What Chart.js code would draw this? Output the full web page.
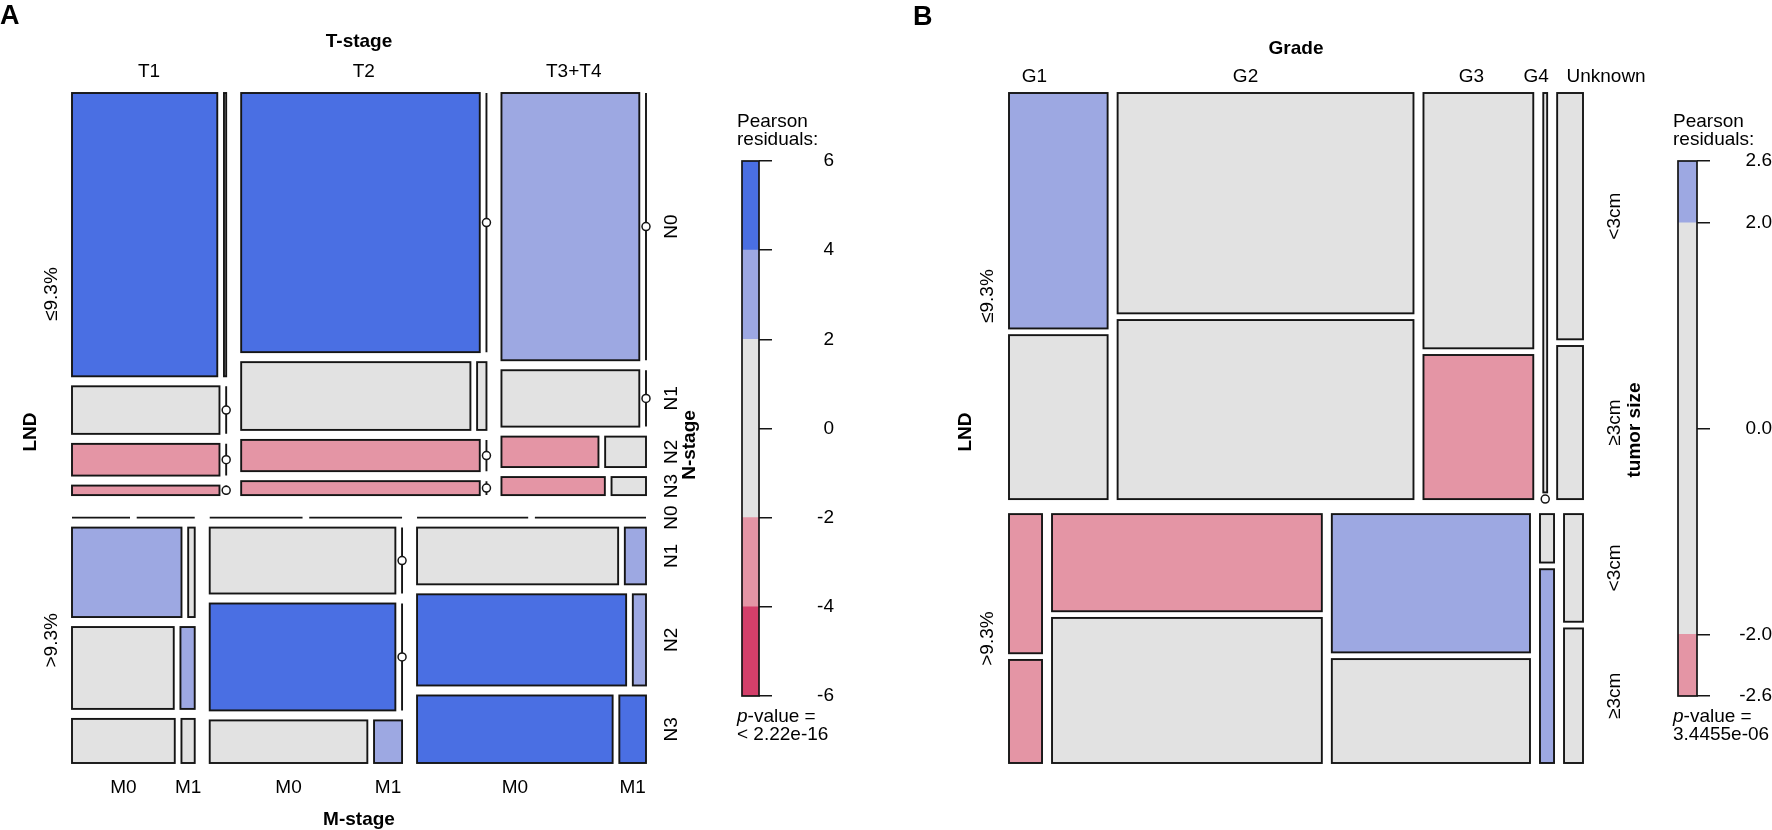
<!DOCTYPE html>
<html>
<head>
<meta charset="utf-8">
<script src="https://cdn.jsdelivr.net/npm/chart.js@4.4.1/dist/chart.umd.min.js"></script>
<style>
  html, body { margin: 0; padding: 0; background: #fff; }
  #wrap { position: relative; width: 1772px; height: 830px; }
  #wrap canvas { position: absolute; left: 0; top: 0; }
</style>
</head>
<body>
<div id="wrap">
  <canvas id="mosaicA" width="1772" height="830"></canvas>
  <canvas id="legendA" width="1772" height="830"></canvas>
  <canvas id="mosaicB" width="1772" height="830"></canvas>
  <canvas id="legendB" width="1772" height="830"></canvas>
</div>
<script>
// ---- panel A: LND x T-stage x N-stage x M-stage ----
const lndLevels = ['≤9.3%', '>9.3%'];
const tStages = ['T1', 'T2', 'T3+T4'];
const nStages = ['N0', 'N1', 'N2', 'N3'];
const mStages = ['M0', 'M1'];

// counts per T-stage, N-stage: [M0, M1]
const countsLowLND = [
  [[264, 4], [45, 0], [30, 0], [9, 0]],
  [[390, 0], [98, 4], [47, 0], [21, 0]],
  [[237, 0], [50, 0], [19, 8], [12, 4]]
];
const countsHighLND = [
  [[0, 0], [67, 4], [57, 8], [31, 4]],
  [[0, 0], [82, 0], [133, 0], [45, 8]],
  [[0, 0], [76, 8], [127, 8], [88, 12]]
];
// Pearson residuals (estimated from the shading)
const residLowLND = [
  [[5.1, 0.6], [1.2, -0.7], [-2.6, -0.5], [-2.9, -0.3]],
  [[4.6, -1.5], [0.4, 0.9], [-3.1, -0.7], [-3.4, -0.5]],
  [[3.2, -1.4], [1.1, -0.7], [-2.5, 1.6], [-2.3, 1.3]]
];
const residHighLND = [
  [[-1.8, -0.4], [3.0, 0.8], [0.9, 2.7], [-0.6, 1.5]],
  [[-2.2, -0.5], [1.4, -0.9], [5.2, -1.2], [-0.4, 2.8]],
  [[-2.1, -0.6], [0.3, 3.3], [5.6, 2.4], [6.0, 4.9]]
];
const legendBreaksA = [-6, -4, -2, 2, 4, 6];
const legendTicksA = [-6, -4, -2, 0, 2, 4, 6];
const legendTickLabelsA = ['-6', '-4', '-2', '0', '2', '4', '6'];
const pValueA = '< 2.22e-16';

// ---- panel B: LND x Grade x tumor size ----
const grades = ['G1', 'G2', 'G3', 'G4', 'Unknown'];
const tumorSizes = ['<3cm', '≥3cm'];
const sizeCountsLowLND = [[135, 94], [379, 308], [163, 92], [9, 0], [37, 23]];
const sizeCountsHighLND = [[27, 20], [154, 230], [161, 121], [4, 16], [12, 15]];
const sizeResidLowLND = [[2.3, -0.6], [-0.4, 0.8], [0.6, -2.2], [1.0, -1.1], [0.2, -0.4]];
const sizeResidHighLND = [[-2.1, -2.2], [-2.4, 1.3], [2.6, -1.0], [-0.8, 2.1], [-0.3, 0.5]];
const legendBreaksB = [-2.6, -2, 2, 2.6];
const legendTicksB = [-2.6, -2, 0, 2, 2.6];
const legendTickLabelsB = ['-2.6', '-2.0', '0.0', '2.0', '2.6'];
const pValueB = '3.4455e-06';

// ---- styling ----
const FONT = '"Liberation Sans", Arial, Helvetica, sans-serif';
const CW = 1772, CH = 830;
const UNIT_W = 574, UNIT_H = 670;
const COL = {
  darkBlue: '#4A6FE3', lightBlue: '#9DA8E2', grey: '#E2E2E2',
  pink: '#E495A5', darkPink: '#D33F6A'
};
const EDGE = '#151515';

function shade(r) {
  if (r > 4) return COL.darkBlue;
  if (r > 2) return COL.lightBlue;
  if (r < -4) return COL.darkPink;
  if (r < -2) return COL.pink;
  return COL.grey;
}
function bandColor(lo, hi) {
  return shade((lo + hi) / 2);
}

const total = (a) => Array.isArray(a) ? a.reduce((s, v) => s + total(v), 0) : a;

// recursive mosaic tiling, splits alternate per dirs
function tile(counts, resid, rect, dirs, gaps, depth, path, boxes, leaves) {
  boxes[path.join('-')] = rect;
  if (!Array.isArray(counts)) {
    leaves.push(Object.assign({}, rect, { count: counts, res: resid }));
    return;
  }
  const sums = counts.map(total);
  const all = sums.reduce((a, b) => a + b, 0);
  const k = counts.length;
  const g = gaps[depth];
  const vert = dirs[depth] === 'v';
  const avail = (vert ? rect.h : rect.w) - g * (k - 1);
  let pos = vert ? rect.y : rect.x;
  counts.forEach((c, i) => {
    const size = all > 0 ? avail * sums[i] / all : avail / k;
    const sub = vert
      ? { x: rect.x, y: pos, w: rect.w, h: size, parentCount: all }
      : { x: pos, y: rect.y, w: size, h: rect.h, parentCount: all };
    tile(c, resid[i], sub, dirs, gaps, depth + 1, path.concat(i), boxes, leaves);
    pos += size + g;
  });
}

function text(ctx, str, x, y, opt) {
  opt = opt || {};
  const size = opt.size || 19;
  ctx.save();
  ctx.fillStyle = '#000';
  ctx.font = (opt.italic ? 'italic ' : '') + (opt.bold ? 'bold ' : '') + size + 'px ' + FONT;
  ctx.textAlign = opt.align || 'center';
  ctx.textBaseline = 'alphabetic';
  if (opt.rot) {
    // x is the visual centre of the rotated glyphs
    ctx.translate(x + size * 0.36, y);
    ctx.rotate(-Math.PI / 2);
    ctx.fillText(str, 0, 0);
  } else {
    ctx.fillText(str, x, y);
  }
  ctx.restore();
}

function mosaicChart(id, cfg) {
  const boxes = {}, leaves = [];
  tile(cfg.counts, cfg.resid, { x: 0, y: 0, w: UNIT_W, h: UNIT_H }, cfg.dirs, cfg.gaps, 0, [], boxes, leaves);
  const zeros = leaves
    .filter(l => l.count === 0 && l.parentCount > 0)
    .map(l => ({ x: l.x + l.w / 2, y: l.y + l.h / 2 }));
  const a = cfg.area;
  return new Chart(document.getElementById(id), {
    type: 'scatter',
    data: {
      datasets: [{
        data: zeros, clip: false,
        pointRadius: 4, pointBackgroundColor: '#fff',
        pointBorderColor: EDGE, pointBorderWidth: 1.5
      }]
    },
    options: {
      responsive: false, animation: false, events: [],
      layout: { padding: { left: a.left, top: a.top, right: CW - a.right, bottom: CH - a.bottom } },
      scales: {
        x: { type: 'linear', min: 0, max: UNIT_W, display: false },
        y: { type: 'linear', min: 0, max: UNIT_H, reverse: true, display: false }
      },
      plugins: { legend: { display: false }, tooltip: { enabled: false } }
    },
    plugins: [{
      id: 'tiles',
      beforeDatasetsDraw(chart) {
        const { ctx, scales: { x, y } } = chart;
        ctx.save();
        ctx.strokeStyle = EDGE;
        ctx.lineWidth = 1.9;
        leaves.forEach(l => {
          const x0 = x.getPixelForValue(l.x), x1 = x.getPixelForValue(l.x + l.w);
          const y0 = y.getPixelForValue(l.y), y1 = y.getPixelForValue(l.y + l.h);
          if (l.w > 0 && l.h > 0) {
            ctx.fillStyle = shade(l.res);
            ctx.fillRect(x0, y0, x1 - x0, y1 - y0);
          }
          ctx.strokeRect(x0, y0, x1 - x0, y1 - y0);
        });
        ctx.restore();
      },
      afterDraw(chart) {
        const { ctx, scales: { x, y } } = chart;
        const cx = (b) => x.getPixelForValue(b.x + b.w / 2);
        const cy = (b) => y.getPixelForValue(b.y + b.h / 2);
        cfg.labels(ctx, boxes, cx, cy, chart.chartArea);
      }
    }]
  });
}

function legendChart(id, cfg) {
  const a = cfg.area;
  const AXIS_W = 75, TICK = 13, size = 19;
  const m = document.createElement('canvas').getContext('2d');
  m.font = size + 'px ' + FONT;
  const widest = Math.max(...cfg.tickLabels.map(s => m.measureText(s).width));
  const pad = cfg.labelRight - a.right - TICK - widest;
  const bands = [];
  for (let i = 0; i < cfg.breaks.length - 1; i++) {
    bands.push({ lo: cfg.breaks[i], hi: cfg.breaks[i + 1] });
  }
  return new Chart(document.getElementById(id), {
    type: 'bar',
    data: {
      labels: ['res'],
      datasets: bands.map(b => ({
        data: [[b.lo, b.hi]], backgroundColor: bandColor(b.lo, b.hi),
        borderWidth: 0, grouped: false, categoryPercentage: 1, barPercentage: 1
      }))
    },
    options: {
      responsive: false, animation: false, events: [],
      layout: { padding: { left: a.left, top: a.top, right: CW - a.right - AXIS_W, bottom: CH - a.bottom } },
      plugins: { legend: { display: false }, tooltip: { enabled: false } },
      scales: {
        x: { display: false },
        y: {
          position: 'right',
          min: cfg.ticks[0], max: cfg.ticks[cfg.ticks.length - 1],
          afterBuildTicks: (s) => { s.ticks = cfg.ticks.map(v => ({ value: v })); },
          afterFit: (s) => { s.width = AXIS_W; },
          ticks: {
            autoSkip: false, crossAlign: 'far', padding: pad, color: '#000',
            font: { family: FONT, size: size },
            callback: (v) => cfg.tickLabels[cfg.ticks.indexOf(v)]
          },
          grid: { drawOnChartArea: false, drawTicks: true, tickLength: TICK, color: EDGE, lineWidth: 1.5 },
          border: { display: false }
        }
      }
    },
    plugins: [{
      id: 'legendText',
      afterDraw(chart) {
        const { ctx, chartArea: c } = chart;
        ctx.save();
        ctx.strokeStyle = EDGE;
        ctx.lineWidth = 1.7;
        ctx.strokeRect(c.left, c.top, c.right - c.left, c.bottom - c.top);
        ctx.restore();
        const lx = c.left - 5;
        text(ctx, 'Pearson', lx, 127, { align: 'left', size: size });
        text(ctx, 'residuals:', lx, 145, { align: 'left', size: size });
        text(ctx, 'p', lx, 722, { align: 'left', size: size, italic: true });
        m.font = 'italic ' + size + 'px ' + FONT;
        text(ctx, '-value =', lx + m.measureText('p').width, 722, { align: 'left', size: size });
        text(ctx, cfg.pValue, lx, 740, { align: 'left', size: size });
      }
    }]
  });
}

// ---- panel A ----
mosaicChart('mosaicA', {
  counts: [countsLowLND, countsHighLND],
  resid: [residLowLND, residHighLND],
  dirs: ['v', 'h', 'v', 'h'],
  gaps: [22.5, 15, 10, 6.7],
  area: { left: 72, right: 646, top: 93, bottom: 763 },
  labels(ctx, boxes, cx, cy, area) {
    text(ctx, 'A', 0, 24, { align: 'left', bold: true, size: 27 });
    const mid = (area.left + area.right) / 2;
    text(ctx, 'T-stage', mid, 47, { bold: true });
    tStages.forEach((t, i) => text(ctx, t, cx(boxes['0-' + i]), 77));
    lndLevels.forEach((l, i) => text(ctx, l, 50, cy(boxes[String(i)]), { rot: true }));
    text(ctx, 'LND', 29, (area.top + area.bottom) / 2 + 4, { rot: true, bold: true });
    lndLevels.forEach((l, li) => {
      nStages.forEach((n, ni) => {
        text(ctx, n, 670, cy(boxes[li + '-' + (tStages.length - 1) + '-' + ni]), { rot: true });
      });
    });
    text(ctx, 'N-stage', 688, 445, { rot: true, bold: true });
    tStages.forEach((t, ti) => {
      mStages.forEach((mm, mi) => {
        text(ctx, mm, cx(boxes['1-' + ti + '-' + (nStages.length - 1) + '-' + mi]), 793);
      });
    });
    text(ctx, 'M-stage', mid, 825, { bold: true });
  }
});

legendChart('legendA', {
  area: { left: 742, right: 759, top: 161, bottom: 696 },
  labelRight: 823,
  breaks: legendBreaksA, ticks: legendTicksA, tickLabels: legendTickLabelsA,
  pValue: pValueA
});

// ---- panel B ----
const gradeLabelNudge = [-24, -20, -7, -9, 36];
mosaicChart('mosaicB', {
  counts: [sizeCountsLowLND, sizeCountsHighLND],
  resid: [sizeResidLowLND, sizeResidHighLND],
  dirs: ['v', 'h', 'v'],
  gaps: [15, 10, 6.7],
  area: { left: 1009, right: 1583, top: 93, bottom: 763 },
  labels(ctx, boxes, cx, cy, area) {
    text(ctx, 'B', 913, 25, { align: 'left', bold: true, size: 27 });
    const mid = (area.left + area.right) / 2;
    text(ctx, 'Grade', mid, 54, { bold: true });
    grades.forEach((g, i) => text(ctx, g, cx(boxes['0-' + i]) + gradeLabelNudge[i], 82));
    lndLevels.forEach((l, i) => text(ctx, l, 986, cy(boxes[String(i)]), { rot: true }));
    text(ctx, 'LND', 964, (area.top + area.bottom) / 2 + 4, { rot: true, bold: true });
    lndLevels.forEach((l, li) => {
      tumorSizes.forEach((s, si) => {
        text(ctx, s, 1613, cy(boxes[li + '-' + (grades.length - 1) + '-' + si]), { rot: true });
      });
    });
    text(ctx, 'tumor size', 1633, 430, { rot: true, bold: true });
  }
});

legendChart('legendB', {
  area: { left: 1678, right: 1697, top: 161, bottom: 696 },
  labelRight: 1757,
  breaks: legendBreaksB, ticks: legendTicksB, tickLabels: legendTickLabelsB,
  pValue: pValueB
});
</script>
</body>
</html>
